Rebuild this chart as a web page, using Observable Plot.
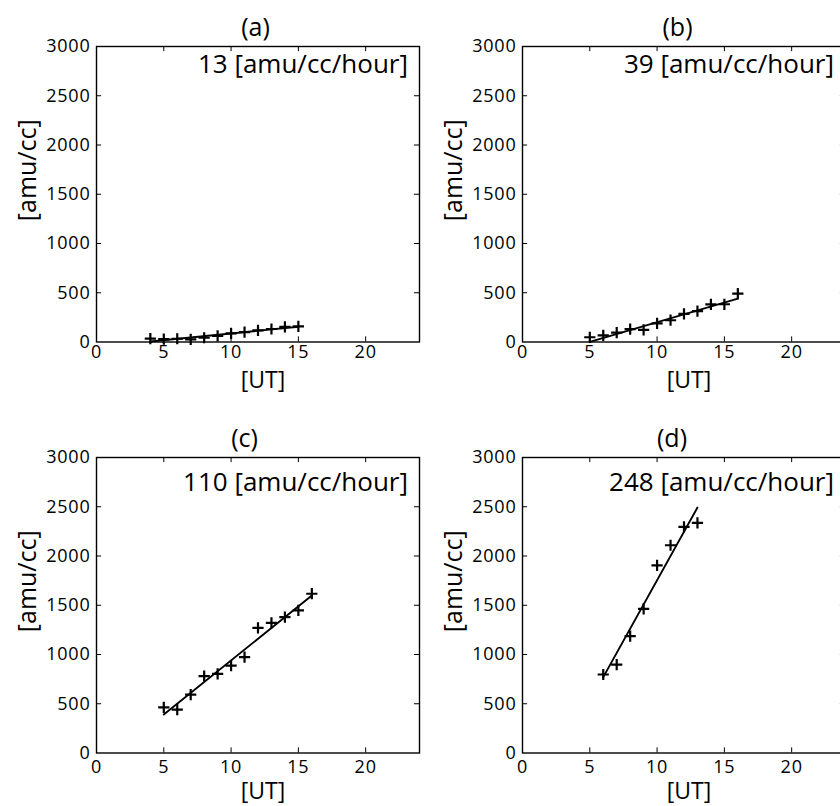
<!DOCTYPE html>
<html>
<head>
<meta charset="utf-8">
<script src="https://cdn.jsdelivr.net/npm/d3@7"></script>
<script src="https://cdn.jsdelivr.net/npm/@observablehq/plot@0.6"></script>
<style>
  html, body { margin: 0; padding: 0; background: #fff; width: 840px; height: 806px; overflow: hidden; }
  #wrap { position: relative; width: 840px; height: 806px; overflow: hidden; }
  #wrap svg { position: absolute; }
  g[aria-label="x-axis tick label"] text, g[aria-label="y-axis tick label"] text { font-size: 18px; letter-spacing: 0.8px; }
</style>
</head>
<body>
<div id="wrap"></div>
<script>
// ---- data ----
const xTicks = [0, 5, 10, 15, 20];
const yTicks = [0, 500, 1000, 1500, 2000, 2500, 3000];
const panelLabels = ["(a)", "(b)", "(c)", "(d)"];
const rateLabels = ["13 [amu/cc/hour]", "39 [amu/cc/hour]", "110 [amu/cc/hour]", "248 [amu/cc/hour]"];
const xLabel = "[UT]";
const yLabel = "[amu/cc]";

const hoursA = [4, 5, 6, 7, 8, 9, 10, 11, 12, 13, 14, 15];
const densA  = [34, 30, 33, 26, 43, 62, 88, 101, 118, 132, 154, 158];
const fitHoursA = [4, 15];
const fitDensA  = [5, 155];

const hoursB = [5, 6, 7, 8, 9, 10, 11, 12, 13, 14, 15, 16];
const densB  = [48, 68, 96, 130, 124, 190, 221, 285, 313, 382, 383, 492];
const fitHoursB = [5, 16];
const fitDensB  = [2, 440];

const hoursC = [5, 6, 7, 8, 9, 10, 11, 12, 13, 14, 15, 16];
const densC  = [464, 441, 593, 780, 803, 888, 973, 1271, 1322, 1380, 1448, 1617];
const fitHoursC = [5, 16];
const fitDensC  = [390, 1600];

const hoursD = [6, 7, 8, 9, 10, 11, 12, 13];
const densD  = [797, 898, 1187, 1464, 1905, 2109, 2295, 2336];
const fitHoursD = [6, 13];
const fitDensD  = [770, 2492];

// ---- build ----
const toPts = (xs, ys) => xs.map((x, i) => ({x, y: ys[i]}));

const panels = [
  {pts: toPts(hoursA, densA), fit: toPts(fitHoursA, fitDensA), left: 0,   top: 0,   width: 420, ml: 96,  mr: 1, tp: 3.5, titleDx: -2.5, rateDy: 18},
  {pts: toPts(hoursB, densB), fit: toPts(fitHoursB, fitDensB), left: 420, top: 0,   width: 430, ml: 102, mr: 5, tp: 3.5, titleDx: -6.5, rateDy: 18},
  {pts: toPts(hoursC, densC), fit: toPts(fitHoursC, fitDensC), left: 0,   top: 411, width: 420, ml: 96,  mr: 1, tp: 7.5, titleDx: -13.5, rateDy: 25},
  {pts: toPts(hoursD, densD), fit: toPts(fitHoursD, fitDensD), left: 420, top: 411, width: 430, ml: 102, mr: 5, tp: 7.5, titleDx: -12, rateDy: 25}
];

const innerX = xTicks.filter(d => d > 0);
const innerY = yTicks.filter(d => d > 0 && d < 3000);
const wrap = document.getElementById("wrap");

panels.forEach((p, i) => {
  const chart = Plot.plot({
    width: p.width,
    height: 395,
    marginLeft: p.ml,
    marginRight: p.mr,
    marginTop: 46,
    marginBottom: 53.5,
    x: {domain: [0, 24]},
    y: {domain: [0, 3000]},
    style: {fontFamily: "'Open Sans', sans-serif", background: "transparent", overflow: "visible", color: "#000"},
    marks: [
      Plot.axisX(xTicks, {tickSize: 0, tickPadding: p.tp, fontSize: 18, label: null, tickFormat: d3.format("d")}),
      Plot.axisY(yTicks, {tickSize: 0, tickPadding: 6, fontSize: 18, label: null, tickFormat: d3.format("d")}),
      // inward tick marks on all four sides
      Plot.ruleX(innerX, {x: d => d, y1: 0, y2: 52, stroke: "#000", strokeWidth: 1}),
      Plot.ruleX(innerX, {x: d => d, y1: 3000, y2: 2948, stroke: "#000", strokeWidth: 1}),
      Plot.ruleY(innerY, {y: d => d, x1: 0, x2: 0.38, stroke: "#000", strokeWidth: 1}),
      Plot.ruleY(innerY, {y: d => d, x1: 24, x2: 23.62, stroke: "#000", strokeWidth: 1}),
      Plot.frame({stroke: "#000", strokeWidth: 1.4}),
      Plot.line(p.fit, {x: "x", y: "y", stroke: "#000", strokeWidth: 1.9}),
      Plot.dot(p.pts, {x: "x", y: "y", symbol: "plus", r: 3.7, stroke: "#000", strokeWidth: 2.2}),
      Plot.text([rateLabels[i]], {frameAnchor: "top-right", textAnchor: "end", lineAnchor: "middle", dx: -11.5, dy: p.rateDy, fontSize: 26}),
      Plot.text([panelLabels[i]], {frameAnchor: "top", textAnchor: "middle", lineAnchor: "middle", dy: -19, dx: p.titleDx, fontSize: 25}),
      Plot.text([xLabel], {frameAnchor: "bottom", textAnchor: "middle", lineAnchor: "middle", dy: 38.5, dx: 5, fontSize: 23}),
      Plot.text([yLabel], {frameAnchor: "left", textAnchor: "middle", rotate: -90, lineAnchor: "middle", dx: -69, dy: -24, fontSize: 25})
    ]
  });
  chart.style.left = p.left + "px";
  chart.style.top = p.top + "px";
  wrap.appendChild(chart);
});
</script>
</body>
</html>
